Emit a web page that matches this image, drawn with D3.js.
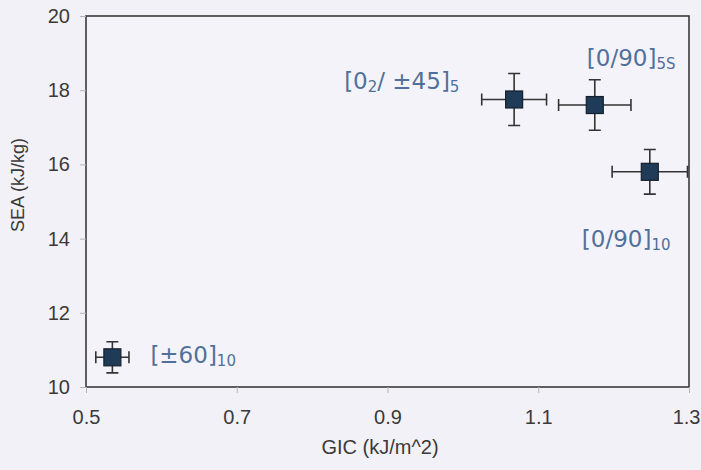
<!DOCTYPE html>
<html>
<head>
<meta charset="utf-8">
<script src="https://cdn.jsdelivr.net/npm/d3@7"></script>
<style>
  body { margin: 0; background: #f3f1f8; }
  svg { display: block; }
</style>
</head>
<body>
<div id="chart"></div>
<script>
const w = 701, h = 470;
const margin = {top: 16, right: 12, bottom: 83, left: 86};

// laminate data
const layups = ['[±60]10', '[0₂/±45]5', '[0/90]5S', '[0/90]10'];
const gic = [0.535, 1.068, 1.175, 1.248];
const gicErr = [0.022, 0.043, 0.048, 0.05];
const sea = [10.8, 17.75, 17.6, 15.8];
const seaErr = [0.42, 0.7, 0.68, 0.6];
const xTicks = [0.5, 0.7, 0.9, 1.1, 1.3];
const yTicks = [10, 12, 14, 16, 18, 20];

// label pieces: main text + subscript, with placement from the point
const labels = [
	{main: '[±60]', sub: '10', dx: 38, dy: 6},
	{main: '[0', sub2: '2', rest: '/ ±45]', sub: '5', dx: -170, dy: -10},
	{main: '[0/90]', sub: '5S', dx: -8, dy: -39},
	{main: '[0/90]', sub: '10', dx: -68, dy: 75}
];

const svg = d3.select('#chart')
	.append('svg')
	.attr('width', w)
	.attr('height', h);

const x = d3.scaleLinear()
	.domain([0.5, 1.3])
	.range([margin.left, w - margin.right]);

const y = d3.scaleLinear()
	.domain([10, 20])
	.range([h - margin.bottom, margin.top]);

// frame
svg.append('rect')
	.attr('x', x(0.5))
	.attr('y', y(20))
	.attr('width', x(1.3) - x(0.5))
	.attr('height', y(10) - y(20))
	.attr('fill', '#f5f3fa')
	.attr('stroke', '#3a3a3a')
	.attr('stroke-width', 1.6);

const xAxis = svg.append('g')
	.attr('transform', 'translate(0,' + y(10) + ')')
	.call(d3.axisBottom(x).tickValues(xTicks).tickFormat(d3.format('.1f')).tickSize(6).tickPadding(17));

const yAxis = svg.append('g')
	.attr('transform', 'translate(' + x(0.5) + ',0)')
	.call(d3.axisLeft(y).tickValues(yTicks).tickSize(6).tickPadding(10));

[xAxis, yAxis].forEach(a => {
	a.select('.domain').remove();
	a.selectAll('line').attr('stroke', '#b5b3bb');
	a.selectAll('text')
		.attr('fill', '#3a3a3a')
		.style('font-family', 'Liberation Sans, Arial, sans-serif')
		.style('font-size', '20px');
});

// last x label sits against the page edge
xAxis.selectAll('.tick').filter(d => d === 1.3).select('text')
	.attr('text-anchor', 'end')
	.attr('x', 11);

svg.append('text')
	.attr('x', 380)
	.attr('y', 454)
	.attr('text-anchor', 'middle')
	.attr('fill', '#3a3a3a')
	.style('font-family', 'Liberation Sans, Arial, sans-serif')
	.style('font-size', '20px')
	.text('GIC (kJ/m^2)');

svg.append('text')
	.attr('transform', 'translate(24,185) rotate(-90)')
	.attr('text-anchor', 'middle')
	.attr('fill', '#3a3a3a')
	.style('font-family', 'Liberation Sans, Arial, sans-serif')
	.style('font-size', '18px')
	.text('SEA (kJ/kg)');

const pts = svg.selectAll('.pt')
	.data(gic.map((g, i) => ({g: g, ge: gicErr[i], s: sea[i], se: seaErr[i], lab: labels[i]})))
	.enter()
	.append('g')
	.attr('class', 'pt');

const cap = 6;
pts.append('path')
	.attr('fill', 'none')
	.attr('stroke', '#333')
	.attr('stroke-width', 1.6)
	.attr('d', d => {
		const cx = x(d.g), cy = y(d.s);
		const x0 = x(d.g - d.ge), x1 = x(d.g + d.ge);
		const y0 = y(d.s + d.se), y1 = y(d.s - d.se);
		return 'M' + x0 + ',' + cy + 'H' + x1 +
			'M' + x0 + ',' + (cy - cap) + 'V' + (cy + cap) +
			'M' + x1 + ',' + (cy - cap) + 'V' + (cy + cap) +
			'M' + cx + ',' + y0 + 'V' + y1 +
			'M' + (cx - cap) + ',' + y0 + 'H' + (cx + cap) +
			'M' + (cx - cap) + ',' + y1 + 'H' + (cx + cap);
	});

pts.append('rect')
	.attr('x', d => x(d.g) - 8.5)
	.attr('y', d => y(d.s) - 8.5)
	.attr('width', 17)
	.attr('height', 17)
	.attr('fill', '#1f3b58')
	.attr('stroke', '#15202c')
	.attr('stroke-width', 1.2);

const lab = pts.append('text')
	.attr('x', d => x(d.g) + d.lab.dx)
	.attr('y', d => y(d.s) + d.lab.dy)
	.attr('fill', '#50709b')
	.style('font-family', 'DejaVu Sans, Verdana, sans-serif')
	.style('font-size', '23px');

lab.each(function (d) {
	const t = d3.select(this);
	t.append('tspan').text(d.lab.main);
	if (d.lab.sub2) {
		t.append('tspan').attr('dy', 3).style('font-size', '15px').text(d.lab.sub2);
		t.append('tspan').attr('dy', -3).text(d.lab.rest);
	}
	t.append('tspan').attr('dy', 3).style('font-size', '15px').text(d.lab.sub);
});
</script>
</body>
</html>
